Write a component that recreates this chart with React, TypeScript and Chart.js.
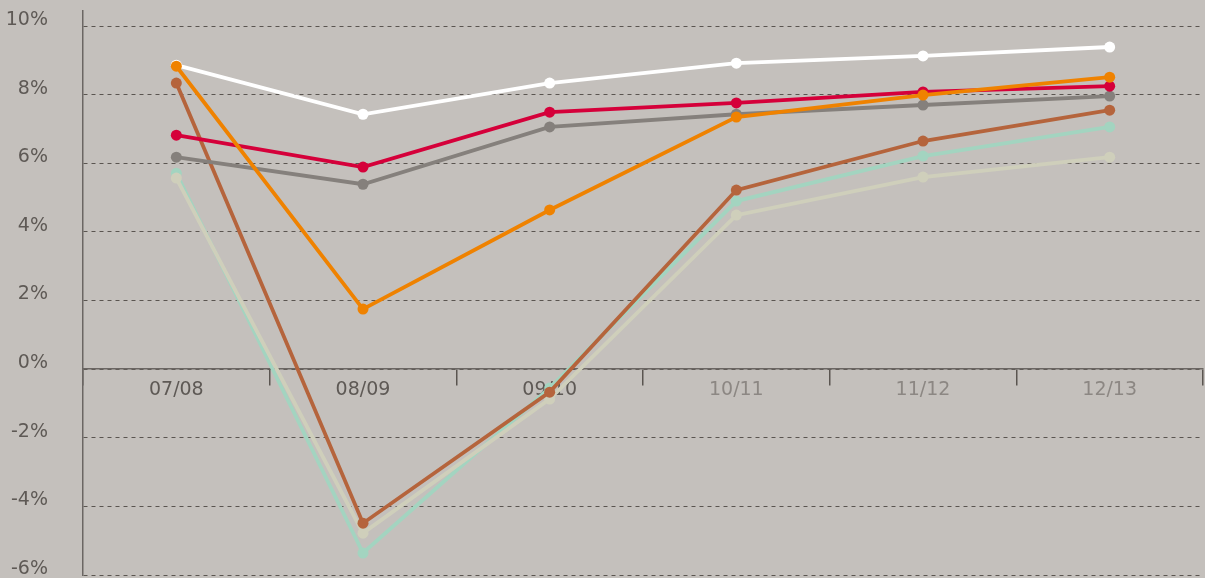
import React, { useEffect, useRef } from "react";
import { Chart, registerables } from "chart.js";

Chart.register(...registerables);

const categories = ["07/08", "08/09", "09/10", "10/11", "11/12", "12/13"];
const yTickValues = [-6, -4, -2, 0, 2, 4, 6, 8, 10];

const orangeSeries = [8.83, 1.75, 4.64, 7.35, 7.99, 8.51];
const whiteSeries = [8.86, 7.43, 8.34, 8.92, 9.13, 9.39];
const redSeries = [6.82, 5.89, 7.49, 7.76, 8.08, 8.25];
const greySeries = [6.18, 5.39, 7.06, 7.43, 7.7, 7.96];
const brownSeries = [8.34, -4.49, -0.67, 5.22, 6.65, 7.55];
const beigeSeries = [5.57, -4.78, -0.87, 4.49, 5.6, 6.18];
const tealSeries = [5.71, -5.36, -0.55, 4.9, 6.21, 7.06];

const seriesList = [
  { label: "orange", data: orangeSeries, color: "#ef8200" },
  { label: "white", data: whiteSeries, color: "#ffffff" },
  { label: "red", data: redSeries, color: "#d5003a" },
  { label: "grey", data: greySeries, color: "#85807c" },
  { label: "brown", data: brownSeries, color: "#b5643c" },
  { label: "beige", data: beigeSeries, color: "#cfcfbb" },
  { label: "teal", data: tealSeries, color: "#a3d4c0" },
];

export default function App() {
  const canvasRef = useRef<HTMLCanvasElement | null>(null);

  useEffect(() => {
    if (!canvasRef.current) return;
    const chart = new Chart(canvasRef.current, {
      type: "line",
      data: {
        labels: categories,
        datasets: seriesList.map((s) => ({
          label: s.label,
          data: s.data,
          borderColor: s.color,
          backgroundColor: s.color,
          pointBackgroundColor: s.color,
          pointBorderColor: s.color,
          pointBorderWidth: 0,
          pointRadius: 5.5,
          borderWidth: 3.8,
          tension: 0,
          fill: false,
          clip: false as any,
        })),
      },
      options: {
        animation: false,
        responsive: false,
        devicePixelRatio: 1,
        layout: { autoPadding: false, padding: { top: 11, bottom: 3, left: 0, right: 2 } },
        plugins: {
          legend: { display: false },
          tooltip: { enabled: false },
        },
        scales: {
          x: {
            type: "category",
            position: { y: 0 } as any,
            offset: true,
            afterFit: (scale: any) => {
              scale.height = 0;
              scale.paddingLeft = 0;
              scale.paddingRight = 0;
              scale.paddingTop = 0;
              scale.paddingBottom = 0;
            },
            grid: {
              offset: true,
              drawOnChartArea: false,
              drawTicks: true,
              tickLength: 16,
              color: "#5a5550",
              lineWidth: 1.5,
            },
            border: { display: true, color: "#6b6663", width: 1.5 },
            ticks: {
              padding: -6,
              font: { family: "DejaVu Sans", size: 19 },
              color: (ctx: any) => (ctx.index < 3 ? "#5e5955" : "#8c8783"),
              maxRotation: 0,
              autoSkip: false,
            },
          },
          y: {
            type: "linear",
            min: -6,
            max: 10.44,
            afterBuildTicks: (scale: any) => {
              scale.ticks = yTickValues.map((v) => ({ value: v }));
            },
            afterFit: (scale: any) => {
              scale.width = 83;
              scale.paddingTop = 0;
              scale.paddingBottom = 0;
            },
            grid: {
              drawTicks: false,
              color: "#5a5550",
              lineWidth: 1,
            },
            border: { display: true, color: "#6b6663", width: 1.5, dash: [4, 4] },
            ticks: {
              padding: 35,
              labelOffset: -6,
              font: { family: "DejaVu Sans", size: 19 },
              color: "#5e5955",
              callback: (v: any) => `${v}%`,
            },
          },
        },
      },
    });
    return () => chart.destroy();
  }, []);

  return (
    <div style={{ position: "fixed", left: 0, top: 0, width: 1205, height: 578, background: "#c4c0bc" }}>
      <canvas ref={canvasRef} width={1205} height={578} style={{ display: "block" }} />
    </div>
  );
}
